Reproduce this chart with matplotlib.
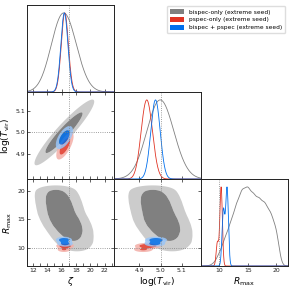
import numpy as np
import matplotlib
matplotlib.use("Agg")
import matplotlib.pyplot as plt
from matplotlib.patches import Patch
from matplotlib.ticker import FixedLocator, NullFormatter

# ---------------- data ----------------
param_labels = [r"$\zeta$", r"$\log(T_{\rm vir})$", r"$R_{\rm max}$"]
param_ranges = [(11.2, 23.3), (4.78, 5.19), (6.75, 22.1)]
truth_values = [17.0, 5.0, 10.0]
zeta_ticks = [12, 14, 16, 18, 20, 22]
zeta_minor = [13, 15, 17, 19, 21, 23]
tvir_ticks = [4.9, 5.0, 5.1]
rmax_ticks = [10, 15, 20]
tick_sets = [zeta_ticks, tvir_ticks, rmax_ticks]
tick_labels = [["12", "14", "16", "18", "20", "22"], ["4.9", "5.0", "5.1"], ["10", "15", "20"]]

series_names = ["bispec-only (extreme seed)", "pspec-only (extreme seed)",
                "bispec + pspec (extreme seed)"]
series_colors = ["#808080", "#E03424", "#006FED"]

# gray posterior: mixture components laid along R_max
gray_rmax = [9, 10, 11, 12, 13, 14, 15, 16, 17, 18, 19, 20]
gray_weight = [0.03, 0.16, 0.36, 0.55, 0.78, 0.97, 1.0, 0.9, 0.85, 0.8, 0.68, 0.5]
gray_zeta = [18.3, 18.1, 17.8, 17.5, 17.2, 16.8, 16.4, 16.0, 15.8, 15.6, 15.4, 15.2]
gray_tvir = [5.06, 5.053, 5.045, 5.035, 5.025, 5.012, 5.0, 4.99, 4.982, 4.975, 4.968, 4.962]
gray_sd_zeta = 1.5
gray_sd_tvir = 0.058
gray_sd_rmax = 0.55
gray_rho = 0.925

# pspec-only posterior
red_weight = [1.0, 0.3]
red_zeta = [16.5, 16.35]
red_tvir = [4.94, 4.918]
red_rmax = [10.3, 9.65]
red_sd_zeta = [0.5, 0.45]
red_sd_tvir = [0.025, 0.022]
red_sd_rmax = [0.22, 0.22]
red_rho = [0.7, 0.7]

# bispec + pspec posterior
blue_weight = [1.0, 0.72]
blue_zeta = [16.33, 16.5]
blue_tvir = [4.978, 4.972]
blue_rmax = [11.35, 10.7]
blue_sd_zeta = [0.48, 0.48]
blue_sd_tvir = [0.022, 0.022]
blue_sd_rmax = [0.24, 0.24]
blue_rho = [0.65, 0.65]


def build(weights, zc, tc, rc, sz, st, sr, rho):
    n = len(weights)
    def arr(v):
        return np.broadcast_to(np.asarray(v, float), (n,)).copy()
    return dict(w=arr(weights), m=np.stack([arr(zc), arr(tc), arr(rc)], 1),
                s=np.stack([arr(sz), arr(st), arr(sr)], 1), rho=arr(rho))


series = [
    build(gray_weight, gray_zeta, gray_tvir, gray_rmax, gray_sd_zeta, gray_sd_tvir, gray_sd_rmax, gray_rho),
    build(red_weight, red_zeta, red_tvir, red_rmax, red_sd_zeta, red_sd_tvir, red_sd_rmax, red_rho),
    build(blue_weight, blue_zeta, blue_tvir, blue_rmax, blue_sd_zeta, blue_sd_tvir, blue_sd_rmax, blue_rho),
]


def dens1d(s, i, x):
    out = np.zeros_like(x)
    for w, m, sd in zip(s["w"], s["m"][:, i], s["s"][:, i]):
        out += w / sd * np.exp(-0.5 * ((x - m) / sd) ** 2)
    return out


def dens2d(s, i, j, X, Y):
    out = np.zeros_like(X)
    for k in range(len(s["w"])):
        mx, my = s["m"][k, i], s["m"][k, j]
        sx, sy = s["s"][k, i], s["s"][k, j]
        r = s["rho"][k] if {i, j} == {0, 1} else 0.0
        zx = (X - mx) / sx
        zy = (Y - my) / sy
        q = (zx ** 2 - 2 * r * zx * zy + zy ** 2) / (1 - r ** 2)
        out += s["w"][k] * np.exp(-0.5 * q) / (sx * sy * np.sqrt(1 - r ** 2))
    return out


def hpd_levels(Z, probs=(0.95, 0.68)):
    flat = np.sort(Z.ravel())[::-1]
    c = np.cumsum(flat)
    c /= c[-1]
    return [flat[np.searchsorted(c, p)] for p in probs]


def pale(color, f=0.6):
    rgb = np.array(matplotlib.colors.to_rgb(color))
    return tuple(rgb * (1 - f) + f)


# ---------------- figure ----------------
W, H = 293, 292
fig = plt.figure(figsize=(W / 100, H / 100), dpi=100)
left_px, top_px, size_px = 27, 5, 87

axes = {}
for row in range(3):
    for col in range(row + 1):
        l = (left_px + col * size_px) / W
        b = 1 - (top_px + (row + 1) * size_px) / H
        axes[(row, col)] = fig.add_axes([l, b, size_px / W, size_px / H])

tick_fs = 4.4
label_fs = 6.6

for (row, col), ax in axes.items():
    for sp in ax.spines.values():
        sp.set_linewidth(0.7)
        sp.set_color("#222222")
    ax.set_xlim(param_ranges[col])
    ax.xaxis.set_major_locator(FixedLocator(tick_sets[col]))
    if row == 2:
        ax.set_xticklabels(tick_labels[col], fontsize=tick_fs)
        ax.set_xlabel(param_labels[col], fontsize=label_fs, labelpad=1.5)
    else:
        ax.xaxis.set_major_formatter(NullFormatter())
    ax.tick_params(axis="both", which="both", direction="in", length=2.2, width=0.5,
                   pad=1.5, colors="#222222")
    if row == col:
        # 1D marginal
        x = np.linspace(*param_ranges[col], 600)
        for s, c in zip(series, series_colors):
            d = dens1d(s, col, x)
            ax.plot(x, d / d.max(), color=c, lw=0.6)
        ax.set_ylim(0, 1.1)
        ax.set_yticks([])
        ax.axvline(truth_values[col], color="gray", ls=":", lw=0.6)
        ax.tick_params(axis="x", top=False)
    else:
        i, j = col, row
        xr, yr = param_ranges[i], param_ranges[j]
        dx, dy = xr[1] - xr[0], yr[1] - yr[0]
        gx = np.linspace(xr[0] - 0.3 * dx, xr[1] + 0.3 * dx, 400)
        gy = np.linspace(yr[0] - 0.3 * dy, yr[1] + 0.3 * dy, 400)
        X, Y = np.meshgrid(gx, gy)
        for n, (s, c) in enumerate(zip(series, series_colors)):
            Z = dens2d(s, i, j, X, Y)
            l95, l68 = hpd_levels(Z)
            alpha = 1.0 if n == 0 else 0.85
            ax.contourf(X, Y, Z, levels=[l95, l68, Z.max() * 1.01],
                        colors=[pale(c), c], alpha=alpha, antialiased=True)
        ax.set_ylim(yr)
        ax.yaxis.set_major_locator(FixedLocator(tick_sets[j]))
        ax.axvline(truth_values[i], color="gray", ls=":", lw=0.6)
        ax.axhline(truth_values[j], color="gray", ls=":", lw=0.6)
        ax.tick_params(axis="both", top=True, right=True)
        if i == 0:
            ax.xaxis.set_minor_locator(FixedLocator(zeta_minor))
        if col == 0:
            ax.set_yticklabels(tick_labels[j], fontsize=tick_fs)
            ax.set_ylabel(param_labels[j], fontsize=label_fs, labelpad=2)
        else:
            ax.yaxis.set_major_formatter(NullFormatter())

handles = [Patch(facecolor=c, edgecolor="none") for c in series_colors]
fig.legend(handles, series_names, loc="upper right",
           bbox_to_anchor=(288 / W, 1 - 3 / H), fontsize=4.2, frameon=True,
           handlelength=2.4, handleheight=0.9, handletextpad=0.8, borderpad=0.55,
           labelspacing=0.4, fancybox=True, edgecolor="#dddddd", framealpha=1)

fig.savefig("out.png", dpi=100)
